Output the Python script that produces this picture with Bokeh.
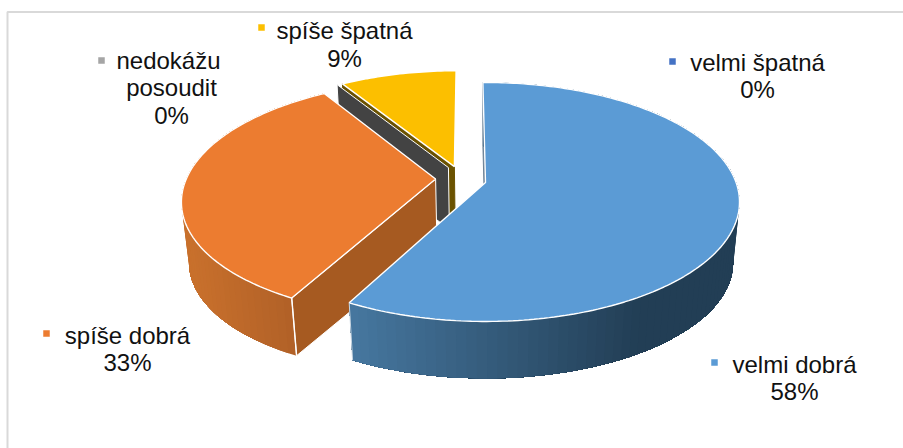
import math
from bokeh.plotting import figure
from bokeh.models import Range1d
from bokeh.core.properties import value
from bokeh.embed import file_html
from bokeh.resources import INLINE

# ---------- data ----------
categories = ["velmi dobrá", "spíše dobrá", "nedokážu posoudit", "spíše špatná", "velmi špatná"]
values = [57.9, 33.3, 0.0, 8.8, 0.0]
percent_labels = ["58%", "33%", "0%", "9%", "0%"]
top_colors = ["#5B9BD5", "#EC7C30", "#A5A5A5", "#FCBF00", "#4472C4"]
side_colors = ["#2A4C68", "#A65A21", "#434343", "#6B5200", "#6D8296"]
wall_left = ["#46779F", "#C8702C", "#434343", "#6B5200", "#6D8296"]
wall_right = ["#223E55", "#B06027", "#434343", "#6B5200", "#6D8296"]
# explosion of each slice, in the pie's own plane (unit radius)
explode_x = [0.0, -0.200, -0.151, -0.127, 0.0]
explode_y = [0.0, 0.0300, 0.131, 0.140, 0.0]

# ---------- projection ----------
CX, CY, A, B, K = 485.0, 182.0, 250.6, 116.3, 0.163
START = -0.7


def top(x, y):
    w = 1 + K * y
    return CX + A * x / w, CY - B * y / w


def bottom(px, py):
    return CX + 0.975 * (px - CX), 66.6 + 0.97 * py


def rim(i, th):
    r = math.radians(th)
    return top(explode_x[i] + math.sin(r), explode_y[i] + math.cos(r))


def hexmix(c1, c2, t):
    t = max(0.0, min(1.0, t))
    a = [int(c1[j:j + 2], 16) for j in (1, 3, 5)]
    b = [int(c2[j:j + 2], 16) for j in (1, 3, 5)]
    return "#%02x%02x%02x" % tuple(round(a[j] + (b[j] - a[j]) * t) for j in range(3))


total = sum(values)
bounds = []
angle = START
for v in values:
    bounds.append((angle, angle + v / total * 360))
    angle += v / total * 360

p = figure(width=903, height=448, output_backend="svg", toolbar_location=None,
           x_range=Range1d(0, 903), y_range=Range1d(448, 0), min_border=0,
           x_axis_type=None, y_axis_type=None, background_fill_color="white",
           border_fill_color="white", outline_line_color=None)
p.xgrid.visible = False
p.ygrid.visible = False

# frame of the chart area
p.line([7, 7, 903], [448, 11.5, 11.5], line_color="#D9D9D9", line_width=2)


def side_face(i, th, color, outline=True):
    ax, ay = top(explode_x[i], explode_y[i])
    rx, ry = rim(i, th)
    bax, bay = bottom(ax, ay)
    brx, bry = bottom(rx, ry)
    p.patch([ax, rx, brx, bax], [ay, ry, bry, bay], fill_color=color,
            line_color="white" if outline else color, line_width=1)


def rim_wall(i, x_lo, x_hi):
    # painter's order: each piece reaches to the end of the arc, so no seams show
    a0, a1 = bounds[i]
    n = max(2, int((a1 - a0) / 2.0))
    for k in range(n):
        t0 = a0 + (a1 - a0) * k / n
        ts = [t0 + (a1 - t0) * j / (n - k) for j in range(n - k + 1)]
        up = [rim(i, t) for t in ts]
        dn = [bottom(*q) for q in up]
        col = hexmix(wall_left[i], wall_right[i], (0.5 * (up[0][0] + up[1][0]) - x_lo) / (x_hi - x_lo))
        p.patch([q[0] for q in up] + [q[0] for q in reversed(dn)],
                [q[1] for q in up] + [q[1] for q in reversed(dn)],
                fill_color=col, line_color=None)


def top_face(i):
    a0, a1 = bounds[i]
    n = max(2, int(a1 - a0))
    pts = [rim(i, a0 + (a1 - a0) * k / n) for k in range(n + 1)]
    ax, ay = top(explode_x[i], explode_y[i])
    xs = [ax] + [q[0] for q in pts]
    ys = [ay] + [q[1] for q in pts]
    p.patch(xs, ys, fill_color=top_colors[i], line_color="white", line_width=1.4)


# back to front: zero slice at the top, yellow, grey, orange, blue
side_face(4, bounds[4][0], side_colors[4], outline=False)
side_face(3, bounds[3][0], side_colors[3], outline=False)
top_face(3)
side_face(2, bounds[2][0], side_colors[2], outline=True)

rim_wall(1, 190, 296)
side_face(1, bounds[1][0], side_colors[1])
top_face(1)
# white edge at the orange front corner
o = rim(1, bounds[1][0])
ob = bottom(*o)
p.line([o[0], ob[0]], [o[1], ob[1]], line_color="white", line_width=1.4)

rim_wall(0, 350, 640)
top_face(0)
b0 = rim(0, bounds[0][1])
bb = bottom(*b0)
p.line([b0[0], bb[0]], [b0[1], bb[1]], line_color="#C9D6E2", line_width=1)

# ---------- labels ----------
FONT = value("Liberation Sans")
label_lines = [
    [("velmi dobrá", 794, 364), ("58%", 794, 391)],
    [("spíše dobrá", 127, 335), ("33%", 127, 362)],
    [("nedokážu", 168, 60), ("posoudit", 171, 87), ("0%", 171, 115)],
    [("spíše špatná", 344, 30), ("9%", 344, 58)],
    [("velmi špatná", 757, 62), ("0%", 757, 89)],
]
marker_xy = [(714, 362), (46, 333), (101, 60), (261, 27), (672, 61)]
for i, lines in enumerate(label_lines):
    p.scatter([marker_xy[i][0]], [marker_xy[i][1]], marker="square", size=6.5,
              fill_color=top_colors[i], line_color=None)
    for s, x, y in lines:
        p.text([x], [y], text=[s], text_font=FONT, text_font_size="24px",
               text_align="center", text_baseline="middle", text_color="#111111")

open("out.html", "w").write(file_html(p, INLINE))
